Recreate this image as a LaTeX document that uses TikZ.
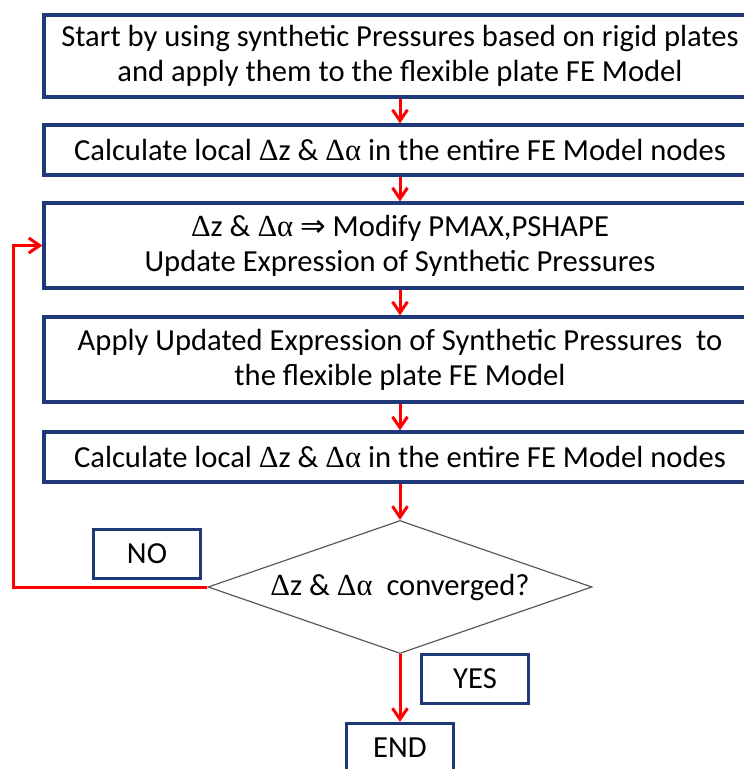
\documentclass[tikz,border=0pt]{standalone}
\usepackage{fontspec}
\setmainfont{Carlito}
\newfontfamily\symf{Liberation Serif}
\newfontfamily\arrf{DejaVu Sans}
\usetikzlibrary{arrows.meta,shapes.geometric}
\definecolor{boxblue}{RGB}{31,56,120}
\definecolor{arrred}{RGB}{255,0,0}
\definecolor{diagray}{RGB}{90,90,90}
\newcommand{\dz}{{\symf Δ}z}
\newcommand{\da}{{\symf Δα}}
\begin{document}
\begin{tikzpicture}[x=1pt,y=-1pt,
  txt/.style={font=\fontsize{30.6}{35}\selectfont},
  box/.style={txt,draw=boxblue,line width=3.2pt,fill=white,minimum width=712pt,align=center,inner sep=0pt},
  smallbox/.style={txt,draw=boxblue,line width=3.2pt,fill=white,minimum width=107pt,minimum height=49pt,inner sep=0pt},
  dia/.style={txt,diamond,draw=diagray,line width=1.2pt,fill=white,aspect=2.89,minimum width=384pt,minimum height=133pt,inner sep=0pt},
  arr/.style={draw=arrred,line width=3pt,-{Straight Barb[length=11pt,width=15pt]}}
]
\useasboundingbox (0,0) rectangle (744,769);
\node[box,minimum height=82pt] (b1) at (400,56) {Start by using synthetic Pressures based on rigid plates\\and apply them to the flexible plate FE Model};
\node[box,minimum height=50pt] (b2) at (400,150) {Calculate local \dz{} \& \da{} in the entire FE Model nodes};
\node[box,minimum height=85pt] (b3) at (400,245.5) {\dz{} \& \da{} {\arrf ⇒} Modify PMAX,PSHAPE\\Update Expression of Synthetic Pressures};
\node[box,minimum height=85pt] (b4) at (400,359.5) {Apply Updated Expression of Synthetic Pressures\ \ to\\the flexible plate FE Model};
\node[box,minimum height=50pt] (b5) at (400,457) {Calculate local \dz{} \& \da{} in the entire FE Model nodes};
\node[dia] (d) at (400,587) {\dz{} \& \da{}\ \ converged?};
\node[smallbox] (no) at (147,554) {NO};
\node[smallbox] (yes) at (475,679) {YES};
\node[smallbox] (end) at (400,748) {END};
\coordinate (fb) at (13,587);
\draw[arr] (b1) -- (b2);
\draw[arr] (b2) -- (b3);
\draw[arr] (b3) -- (b4);
\draw[arr] (b4) -- (b5);
\draw[arr] (b5) -- (d.north);
\draw[arr] (d.south) -- (end.north);
\draw[arr] (d.west) -- (fb) |- (b3.west);
\end{tikzpicture}
\end{document}
